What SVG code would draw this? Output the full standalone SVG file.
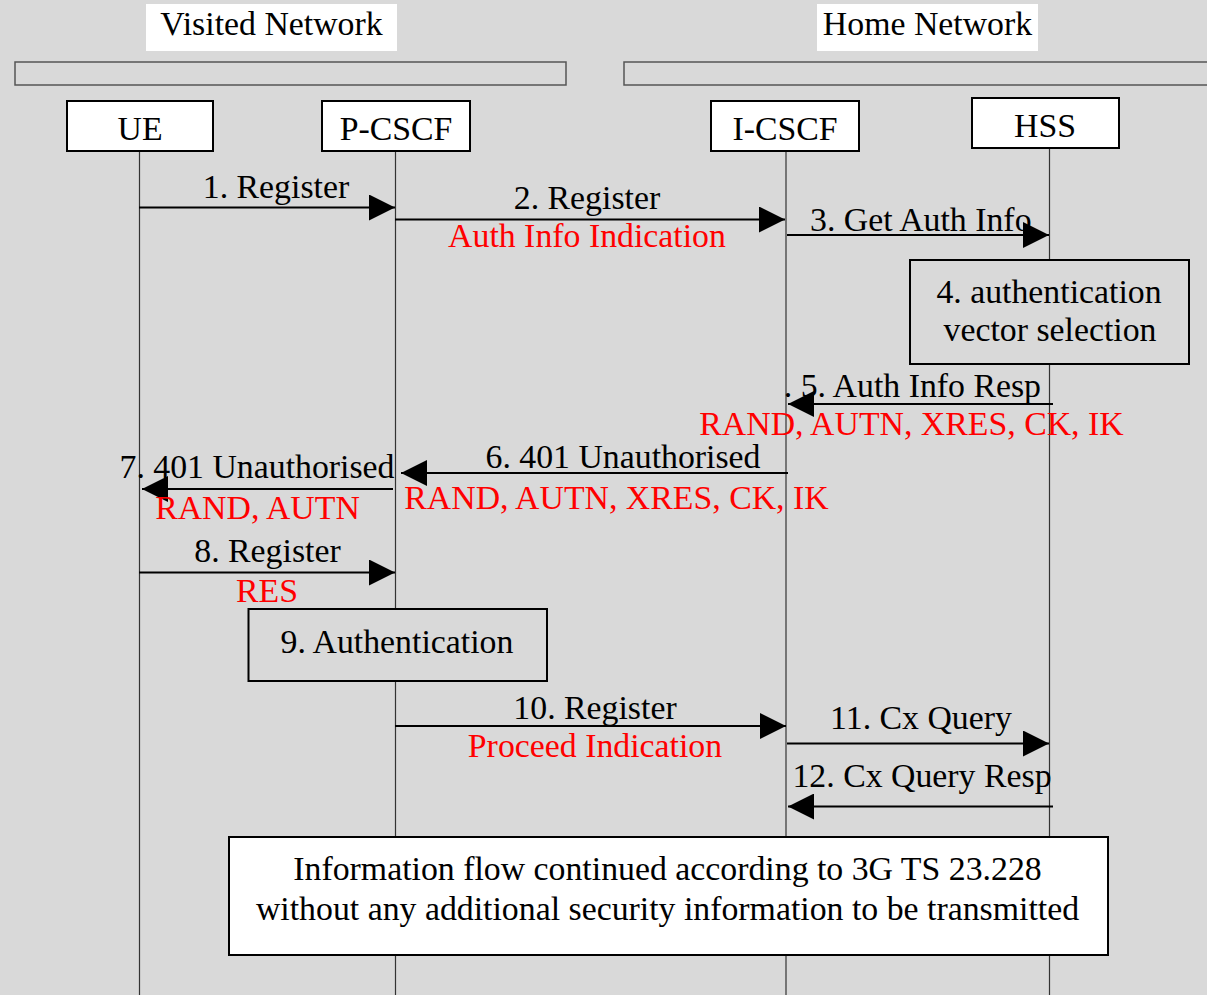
<svg xmlns="http://www.w3.org/2000/svg" width="1207" height="995" viewBox="0 0 1207 995">
<defs>
<marker id="ah" markerUnits="userSpaceOnUse" markerWidth="26" markerHeight="26" refX="26" refY="13" orient="auto">
<path d="M0,0 L26,13 L0,26 z" fill="#000"/>
</marker>
<style>
text{font-family:"Liberation Serif","Times New Roman",serif;font-size:33.8px;fill:#000}
.r{fill:#ff0000}
.m{text-anchor:middle}
.e{text-anchor:end}
.node{fill:#fff;stroke:#000;stroke-width:2}
.bar{fill:#d9d9d9;stroke:#555;stroke-width:1.5}
.life{stroke:#333;stroke-width:1.2}
.msg{stroke:#000;stroke-width:2.2;fill:none;marker-end:url(#ah)}
.proc{fill:#d9d9d9;stroke:#000;stroke-width:2}
</style>
</defs>
<rect x="0" y="0" width="1207" height="995" fill="#d9d9d9"/>
<g id="visited-network">
<rect x="146" y="4" width="251" height="47" fill="#fff"/>
<text x="271.5" y="35" class="m">Visited Network</text>
<rect class="bar" x="15" y="62" width="551" height="23"/>
</g>
<g id="home-network">
<rect x="817" y="4" width="221" height="47" fill="#fff"/>
<text x="927.5" y="35" class="m">Home Network</text>
<rect class="bar" x="624" y="62" width="600" height="23"/>
</g>
<g id="lifelines">
<line class="life" x1="139.5" y1="152" x2="139.5" y2="995"/>
<line class="life" x1="395.5" y1="152" x2="395.5" y2="995"/>
<line class="life" x1="786" y1="152" x2="786" y2="995"/>
<line class="life" x1="1049.5" y1="149" x2="1049.5" y2="995"/>
</g>
<g id="UE">
<rect class="node" x="67" y="101" width="146" height="50"/>
<text x="140" y="140" class="m">UE</text>
</g>
<g id="P-CSCF">
<rect class="node" x="322" y="101" width="148" height="50"/>
<text x="396" y="140" class="m">P-CSCF</text>
</g>
<g id="I-CSCF">
<rect class="node" x="711" y="101" width="148" height="50"/>
<text x="785" y="140" class="m">I-CSCF</text>
</g>
<g id="HSS">
<rect class="node" x="972" y="98" width="147" height="50"/>
<text x="1045" y="137" class="m">HSS</text>
</g>
<g id="step4">
<rect class="proc" x="910" y="260" width="279" height="104"/>
<text x="1049" y="303" class="m">4. authentication</text>
<text x="1050" y="341" class="m">vector selection</text>
</g>
<g id="step9">
<rect class="proc" x="248.5" y="609" width="298.5" height="72"/>
<text x="397" y="653" class="m">9. Authentication</text>
</g>
<g id="info-box">
<rect x="229" y="837" width="879" height="118" fill="#fff" stroke="#000" stroke-width="2"/>
<text x="667.5" y="880" class="m">Information flow continued according to 3G TS 23.228</text>
<text x="667.5" y="920" class="m">without any additional security information to be transmitted</text>
</g>
<g id="connectors">
<line class="msg" x1="139" y1="207.5" x2="395" y2="207.5"/>
<line class="msg" x1="395" y1="219.5" x2="785" y2="219.5"/>
<line class="msg" x1="787" y1="235" x2="1049" y2="235"/>
<line class="msg" x1="1053" y1="404" x2="788" y2="404"/>
<line class="msg" x1="788" y1="473" x2="401" y2="473"/>
<line class="msg" x1="393" y1="489" x2="142" y2="489"/>
<line class="msg" x1="139" y1="572.5" x2="395" y2="572.5"/>
<line class="msg" x1="395" y1="726" x2="786" y2="726"/>
<line class="msg" x1="787" y1="743.5" x2="1049" y2="743.5"/>
<line class="msg" x1="1053" y1="806.5" x2="788" y2="806.5"/>
</g>
<g id="labels">
<text x="276" y="198" class="m">1. Register</text>
<text x="587" y="209" class="m">2. Register</text>
<text x="587" y="247" class="m r">Auth Info Indication</text>
<text x="810" y="231">3. Get Auth Info</text>
<text x="1041" y="397" class="e">. 5. Auth Info Resp</text>
<text x="911.5" y="435" class="m r">RAND, AUTN, XRES, CK, IK</text>
<text x="623" y="468" class="m">6. 401 Unauthorised</text>
<text x="616.5" y="508.5" class="m r">RAND, AUTN, XRES, CK, IK</text>
<text x="257" y="478" class="m">7. 401 Unauthorised</text>
<text x="257.5" y="519" class="m r">RAND, AUTN</text>
<text x="267.5" y="562" class="m">8. Register</text>
<text x="267" y="602" class="m r">RES</text>
<text x="595" y="719" class="m">10. Register</text>
<text x="595" y="757" class="m r">Proceed Indication</text>
<text x="921" y="729" class="m">11. Cx Query</text>
<text x="922" y="787" class="m">12. Cx Query Resp</text>
</g>
</svg>
